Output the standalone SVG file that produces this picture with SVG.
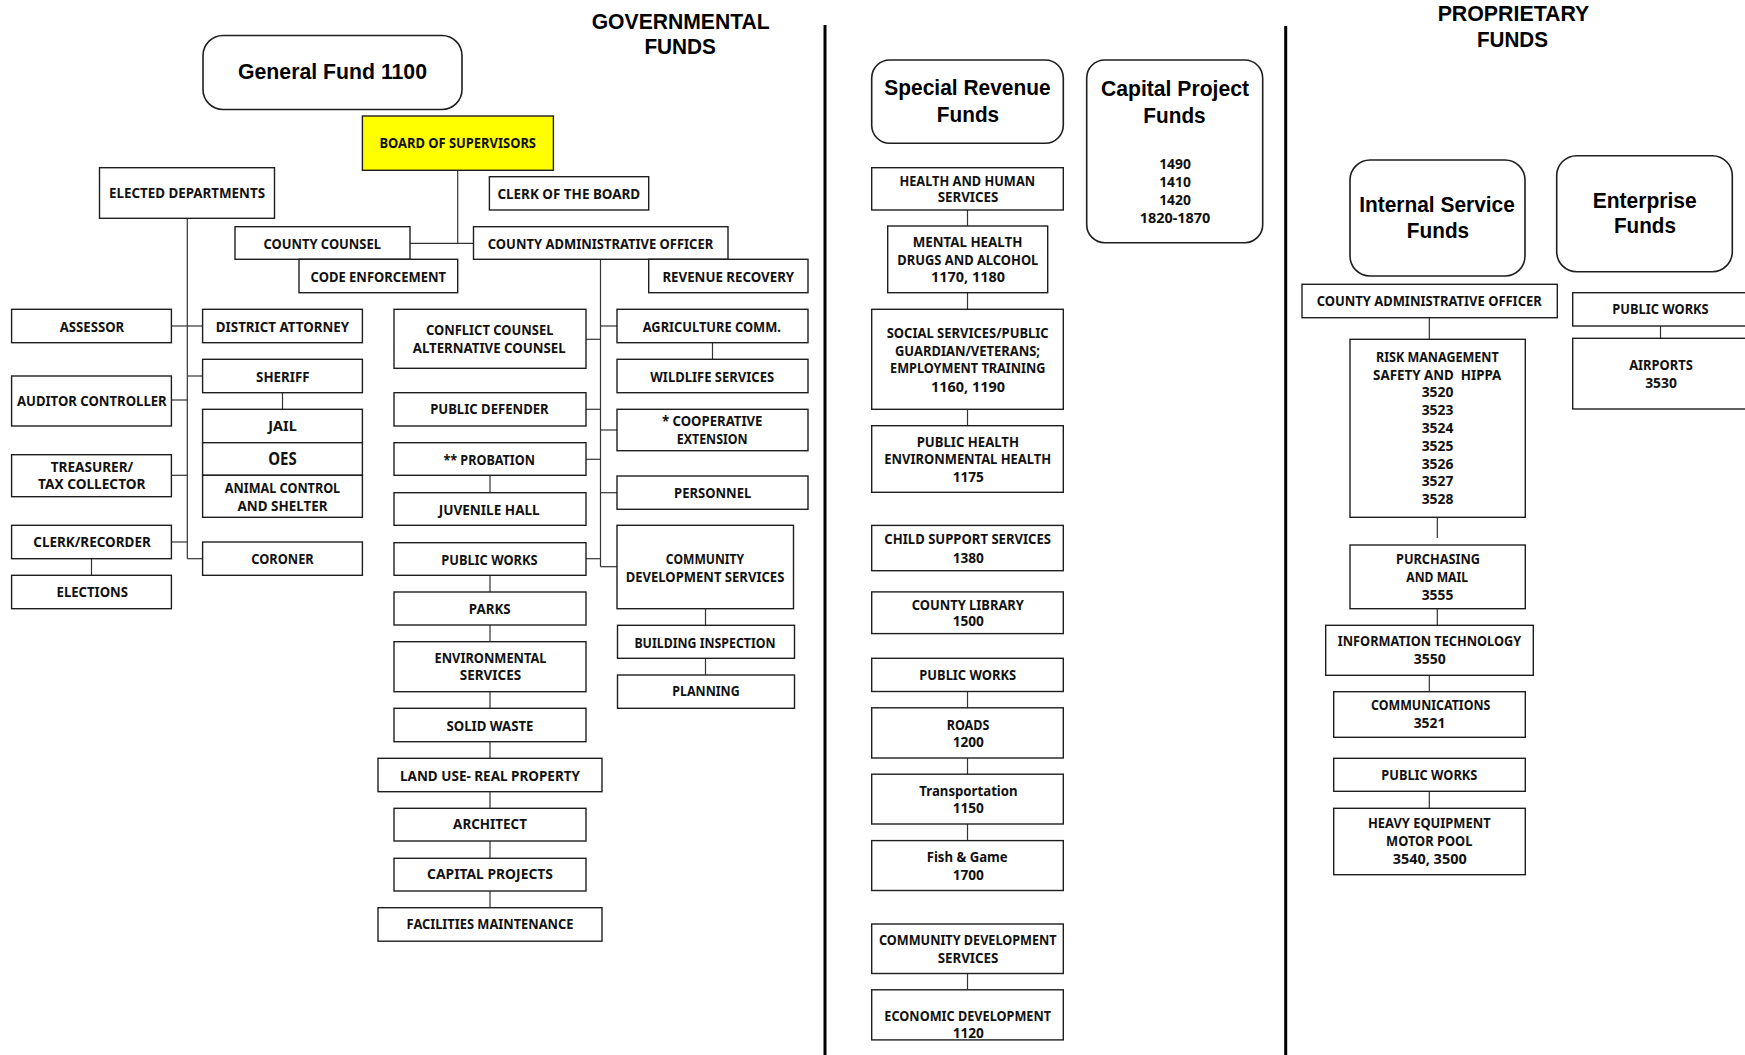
<svg xmlns="http://www.w3.org/2000/svg" width="1745" height="1055" viewBox="0 0 1745 1055">
<style>
.bx{fill:#fff;stroke:#1e1e1e;stroke-width:1.4}
.yb{fill:#ffff00;stroke:#1e1e1e;stroke-width:1.4}
.rb{fill:#fff;stroke:#1e1e1e;stroke-width:1.6}
.t{font-family:"Noto Sans","Liberation Sans",Arial,sans-serif;font-weight:700;font-size:15px;text-anchor:middle;fill:#111}
.oes{font-size:17px}
.h{font-family:"Liberation Sans",Arial,sans-serif;font-weight:700;font-size:22px;text-anchor:middle;fill:#000}
.hf{font-family:"Liberation Sans",Arial,sans-serif;font-weight:700;font-size:21.5px;text-anchor:middle;fill:#000}
.cn line{stroke:#333;stroke-width:1.2}
.dv{stroke:#000;stroke-width:3}
</style>

<g id="dividers">
<line class="dv" x1="825" y1="25" x2="825" y2="1055"/>
<line class="dv" x1="1285.7" y1="26" x2="1285.7" y2="1055"/>
</g>

<g id="titles">
<text class="h" x="680.7" y="29.3" textLength="178" lengthAdjust="spacingAndGlyphs">GOVERNMENTAL</text>
<text class="h" x="680.2" y="54" textLength="71.5" lengthAdjust="spacingAndGlyphs">FUNDS</text>
<text class="h" x="1513.5" y="20.7" textLength="151.7" lengthAdjust="spacingAndGlyphs">PROPRIETARY</text>
<text class="h" x="1512.5" y="46.7" textLength="71" lengthAdjust="spacingAndGlyphs">FUNDS</text>
</g>

<g id="connectors" class="cn">
<line x1="457.7" y1="170.3" x2="457.7" y2="243.3"/>
<line x1="410" y1="243.3" x2="473.5" y2="243.3"/>
<line x1="187.3" y1="218.3" x2="187.3" y2="558.7"/>
<line x1="171.4" y1="326" x2="202.6" y2="326"/>
<line x1="187.3" y1="376" x2="202.6" y2="376"/>
<line x1="171.4" y1="400" x2="187.3" y2="400"/>
<line x1="171.4" y1="475.3" x2="187.3" y2="475.3"/>
<line x1="171.4" y1="542" x2="187.3" y2="542"/>
<line x1="187.3" y1="558.7" x2="202.6" y2="558.7"/>
<line x1="282.5" y1="392.7" x2="282.5" y2="409.3"/>
<line x1="91.5" y1="558.7" x2="91.5" y2="575.3"/>
<line x1="600.5" y1="259.3" x2="600.5" y2="566.7"/>
<line x1="586" y1="339.3" x2="600.5" y2="339.3"/>
<line x1="600.5" y1="326" x2="617" y2="326"/>
<line x1="586" y1="409.3" x2="600.5" y2="409.3"/>
<line x1="600.5" y1="430" x2="617" y2="430"/>
<line x1="586" y1="459.3" x2="600.5" y2="459.3"/>
<line x1="600.5" y1="492.7" x2="617" y2="492.7"/>
<line x1="586" y1="558.7" x2="600.5" y2="558.7"/>
<line x1="600.5" y1="566.7" x2="617" y2="566.7"/>
<line x1="712.5" y1="342.7" x2="712.5" y2="359.3"/>
<line x1="490" y1="475.3" x2="490" y2="492.7"/>
<line x1="490" y1="575.3" x2="490" y2="592"/>
<line x1="490" y1="625" x2="490" y2="641.7"/>
<line x1="490" y1="691.7" x2="490" y2="708.3"/>
<line x1="490" y1="741.7" x2="490" y2="758.3"/>
<line x1="490" y1="791.7" x2="490" y2="808.3"/>
<line x1="490" y1="841" x2="490" y2="858.3"/>
<line x1="490" y1="891" x2="490" y2="907.7"/>
<line x1="705.5" y1="608.7" x2="705.5" y2="625.3"/>
<line x1="705.5" y1="658.3" x2="705.5" y2="675"/>
<line x1="967.5" y1="210" x2="967.5" y2="226"/>
<line x1="967.5" y1="292.7" x2="967.5" y2="309.3"/>
<line x1="967.5" y1="409.3" x2="967.5" y2="425.7"/>
<line x1="967.5" y1="691.5" x2="967.5" y2="707.8"/>
<line x1="967.5" y1="758" x2="967.5" y2="774.2"/>
<line x1="967.5" y1="824" x2="967.5" y2="840.6"/>
<line x1="967.5" y1="973.5" x2="967.5" y2="989.8"/>
<line x1="1429.3" y1="317.7" x2="1429.3" y2="339.3"/>
<line x1="1437.3" y1="517.3" x2="1437.3" y2="538"/>
<line x1="1437.3" y1="608.7" x2="1437.3" y2="625.3"/>
<line x1="1429.3" y1="675.3" x2="1429.3" y2="691.7"/>
<line x1="1429.3" y1="791.3" x2="1429.3" y2="808.3"/>
<line x1="1660.5" y1="326" x2="1660.5" y2="338.3"/>
</g>

<g id="general-fund"><rect class="rb" x="203" y="35.5" width="259" height="74" rx="20"/>
<text class="h" x="332.5" y="79" textLength="189" lengthAdjust="spacingAndGlyphs">General Fund 1100</text></g>

<g id="board-of-supervisors"><rect class="yb" x="362.4" y="116" width="191" height="54.3"/>
<text class="t" x="457.7" y="148.3" textLength="156.6" lengthAdjust="spacingAndGlyphs">BOARD OF SUPERVISORS</text></g>

<g id="elected-departments"><rect class="bx" x="99.5" y="167.7" width="175" height="50.6"/>
<text class="t" x="187" y="198" textLength="156" lengthAdjust="spacingAndGlyphs">ELECTED DEPARTMENTS</text></g>

<g id="clerk-of-the-board"><rect class="bx" x="489.4" y="176.7" width="159.3" height="33.3"/>
<text class="t" x="568.8" y="199" textLength="142.8" lengthAdjust="spacingAndGlyphs">CLERK OF THE BOARD</text></g>

<g id="county-counsel"><rect class="bx" x="235" y="226.7" width="175" height="32.6"/>
<text class="t" x="322.2" y="248.5" textLength="117.5" lengthAdjust="spacingAndGlyphs">COUNTY COUNSEL</text></g>

<g id="code-enforcement"><rect class="bx" x="299" y="259.3" width="158.7" height="33.4"/>
<text class="t" x="378.3" y="281.7" textLength="135.4" lengthAdjust="spacingAndGlyphs">CODE ENFORCEMENT</text></g>

<g id="cao"><rect class="bx" x="473.5" y="226.7" width="254.5" height="32.6"/>
<text class="t" x="600.5" y="248.5" textLength="225.4" lengthAdjust="spacingAndGlyphs">COUNTY ADMINISTRATIVE OFFICER</text></g>

<g id="revenue-recovery"><rect class="bx" x="648.7" y="259.3" width="159.3" height="33.4"/>
<text class="t" x="728.3" y="282" textLength="131.8" lengthAdjust="spacingAndGlyphs">REVENUE RECOVERY</text></g>

<g id="assessor"><rect class="bx" x="11.6" y="309.3" width="159.8" height="33.4"/>
<text class="t" x="92" y="331.7" textLength="64.5" lengthAdjust="spacingAndGlyphs">ASSESSOR</text></g>

<g id="auditor-controller"><rect class="bx" x="11.6" y="376" width="159.8" height="50"/>
<text class="t" x="91.8" y="405.7" textLength="149.8" lengthAdjust="spacingAndGlyphs">AUDITOR CONTROLLER</text></g>

<g id="treasurer"><rect class="bx" x="11.6" y="454.7" width="159.8" height="42"/>
<text class="t" x="92" y="472.3" textLength="82.5" lengthAdjust="spacingAndGlyphs">TREASURER/</text>
<text class="t" x="91.8" y="489.3" textLength="107.4" lengthAdjust="spacingAndGlyphs">TAX COLLECTOR</text></g>

<g id="clerk-recorder"><rect class="bx" x="11.6" y="525.3" width="159.8" height="33.4"/>
<text class="t" x="92" y="547" textLength="117.5" lengthAdjust="spacingAndGlyphs">CLERK/RECORDER</text></g>

<g id="elections"><rect class="bx" x="11.6" y="575.3" width="159.8" height="33.4"/>
<text class="t" x="92.3" y="597.3" textLength="71.4" lengthAdjust="spacingAndGlyphs">ELECTIONS</text></g>

<g id="district-attorney"><rect class="bx" x="202.6" y="309.3" width="159.8" height="33.4"/>
<text class="t" x="282.5" y="331.7" textLength="133.3" lengthAdjust="spacingAndGlyphs">DISTRICT ATTORNEY</text></g>

<g id="sheriff"><rect class="bx" x="202.6" y="359.3" width="159.8" height="33.4"/>
<text class="t" x="282.8" y="381.7" textLength="53.4" lengthAdjust="spacingAndGlyphs">SHERIFF</text></g>

<g id="jail"><rect class="bx" x="202.6" y="409.3" width="159.8" height="33.4"/>
<text class="t" x="282.5" y="431.3" textLength="28.5" lengthAdjust="spacingAndGlyphs">JAIL</text></g>

<g id="oes"><rect class="bx" x="202.6" y="442.7" width="159.8" height="32.6"/>
<text class="t oes" x="282.5" y="464.7" textLength="28.5" lengthAdjust="spacingAndGlyphs">OES</text></g>

<g id="animal-control"><rect class="bx" x="202.6" y="475.3" width="159.8" height="42"/>
<text class="t" x="282.5" y="492.7" textLength="115.3" lengthAdjust="spacingAndGlyphs">ANIMAL CONTROL</text>
<text class="t" x="282.5" y="510.7" textLength="90" lengthAdjust="spacingAndGlyphs">AND SHELTER</text></g>

<g id="coroner"><rect class="bx" x="202.6" y="542" width="159.8" height="33.3"/>
<text class="t" x="282.5" y="564" textLength="62.4" lengthAdjust="spacingAndGlyphs">CORONER</text></g>

<g id="conflict-counsel"><rect class="bx" x="394" y="309.3" width="192" height="59"/>
<text class="t" x="489.7" y="334.7" textLength="127.5" lengthAdjust="spacingAndGlyphs">CONFLICT COUNSEL</text>
<text class="t" x="489.2" y="352.7" textLength="152.9" lengthAdjust="spacingAndGlyphs">ALTERNATIVE COUNSEL</text></g>

<g id="public-defender"><rect class="bx" x="394" y="392.7" width="192" height="33.3"/>
<text class="t" x="489.4" y="414.3" textLength="118.5" lengthAdjust="spacingAndGlyphs">PUBLIC DEFENDER</text></g>

<g id="probation"><rect class="bx" x="394" y="442.7" width="192" height="32.6"/>
<text class="t" x="489.2" y="464.7" textLength="91.5" lengthAdjust="spacingAndGlyphs">** PROBATION</text></g>

<g id="juvenile-hall"><rect class="bx" x="394" y="492.7" width="192" height="32.6"/>
<text class="t" x="489.2" y="514.7" textLength="101" lengthAdjust="spacingAndGlyphs">JUVENILE HALL</text></g>

<g id="public-works-gf"><rect class="bx" x="394" y="542.7" width="192" height="32.6"/>
<text class="t" x="489.4" y="564.7" textLength="96.3" lengthAdjust="spacingAndGlyphs">PUBLIC WORKS</text></g>

<g id="parks"><rect class="bx" x="394" y="592" width="192" height="33"/>
<text class="t" x="489.7" y="613.7" textLength="41.8" lengthAdjust="spacingAndGlyphs">PARKS</text></g>

<g id="environmental-services"><rect class="bx" x="394" y="641.7" width="192" height="50"/>
<text class="t" x="490.5" y="663.3" textLength="112" lengthAdjust="spacingAndGlyphs">ENVIRONMENTAL</text>
<text class="t" x="490.5" y="680" textLength="61.4" lengthAdjust="spacingAndGlyphs">SERVICES</text></g>

<g id="solid-waste"><rect class="bx" x="394" y="708.3" width="192" height="33.4"/>
<text class="t" x="490" y="730.7" textLength="87" lengthAdjust="spacingAndGlyphs">SOLID WASTE</text></g>

<g id="land-use"><rect class="bx" x="378" y="758.3" width="224" height="33.4"/>
<text class="t" x="490" y="780.7" textLength="180" lengthAdjust="spacingAndGlyphs">LAND USE- REAL PROPERTY</text></g>

<g id="architect"><rect class="bx" x="394" y="808.3" width="192" height="32.7"/>
<text class="t" x="490" y="829.3" textLength="73.8" lengthAdjust="spacingAndGlyphs">ARCHITECT</text></g>

<g id="capital-projects"><rect class="bx" x="394" y="858.3" width="192" height="32.7"/>
<text class="t" x="490" y="879.3" textLength="125.8" lengthAdjust="spacingAndGlyphs">CAPITAL PROJECTS</text></g>

<g id="facilities-maintenance"><rect class="bx" x="378" y="907.7" width="224" height="33.5"/>
<text class="t" x="490" y="929.3" textLength="166.8" lengthAdjust="spacingAndGlyphs">FACILITIES MAINTENANCE</text></g>

<g id="agriculture-comm"><rect class="bx" x="617" y="309.3" width="191" height="33.4"/>
<text class="t" x="711.8" y="331.7" textLength="138.1" lengthAdjust="spacingAndGlyphs">AGRICULTURE COMM.</text></g>

<g id="wildlife-services"><rect class="bx" x="617" y="359.3" width="191" height="33.4"/>
<text class="t" x="712.2" y="381.7" textLength="123.8" lengthAdjust="spacingAndGlyphs">WILDLIFE SERVICES</text></g>

<g id="cooperative-extension"><rect class="bx" x="617" y="409.3" width="191" height="41.4"/>
<text class="t" x="712.2" y="426.3" textLength="100.5" lengthAdjust="spacingAndGlyphs">* COOPERATIVE</text>
<text class="t" x="712.2" y="444.3" textLength="70.9" lengthAdjust="spacingAndGlyphs">EXTENSION</text></g>

<g id="personnel"><rect class="bx" x="617" y="476" width="191" height="33.3"/>
<text class="t" x="712.7" y="497.7" textLength="77.2" lengthAdjust="spacingAndGlyphs">PERSONNEL</text></g>

<g id="community-development-services"><rect class="bx" x="617" y="525.3" width="176.5" height="83.4"/>
<text class="t" x="705" y="564" textLength="78.3" lengthAdjust="spacingAndGlyphs">COMMUNITY</text>
<text class="t" x="705" y="582" textLength="158.7" lengthAdjust="spacingAndGlyphs">DEVELOPMENT SERVICES</text></g>

<g id="building-inspection"><rect class="bx" x="617.5" y="625.3" width="177" height="33"/>
<text class="t" x="705" y="648.3" textLength="141.2" lengthAdjust="spacingAndGlyphs">BUILDING INSPECTION</text></g>

<g id="planning"><rect class="bx" x="617.5" y="675" width="177" height="33.3"/>
<text class="t" x="706" y="696" textLength="67.4" lengthAdjust="spacingAndGlyphs">PLANNING</text></g>

<g id="special-revenue-funds"><rect class="rb" x="871.7" y="60" width="191.6" height="83.3" rx="18"/>
<text class="hf" x="967.5" y="95" textLength="166.3" lengthAdjust="spacingAndGlyphs">Special Revenue</text>
<text class="hf" x="968" y="121.7" textLength="62.3" lengthAdjust="spacingAndGlyphs">Funds</text></g>

<g id="capital-project-funds"><rect class="rb" x="1086.7" y="60" width="176" height="182.7" rx="18"/>
<text class="hf" x="1175" y="96" textLength="148" lengthAdjust="spacingAndGlyphs">Capital Project</text>
<text class="hf" x="1174.5" y="122.7" textLength="62.3" lengthAdjust="spacingAndGlyphs">Funds</text>
<text class="t" x="1175" y="169" textLength="31.7" lengthAdjust="spacingAndGlyphs">1490</text>
<text class="t" x="1175" y="187.3" textLength="31.7" lengthAdjust="spacingAndGlyphs">1410</text>
<text class="t" x="1175" y="205.3" textLength="31.7" lengthAdjust="spacingAndGlyphs">1420</text>
<text class="t" x="1175" y="223.3" textLength="70.7" lengthAdjust="spacingAndGlyphs">1820-1870</text></g>

<g id="health-human-services"><rect class="bx" x="871.7" y="167.7" width="191.6" height="42.3"/>
<text class="t" x="967.3" y="185.7" textLength="135.7" lengthAdjust="spacingAndGlyphs">HEALTH AND HUMAN</text>
<text class="t" x="968" y="202.3" textLength="60.7" lengthAdjust="spacingAndGlyphs">SERVICES</text></g>

<g id="mental-health"><rect class="bx" x="887.7" y="226" width="160" height="66.7"/>
<text class="t" x="967.5" y="247.3" textLength="109.7" lengthAdjust="spacingAndGlyphs">MENTAL HEALTH</text>
<text class="t" x="967.8" y="265" textLength="141" lengthAdjust="spacingAndGlyphs">DRUGS AND ALCOHOL</text>
<text class="t" x="968" y="282.3" textLength="74" lengthAdjust="spacingAndGlyphs">1170, 1180</text></g>

<g id="social-services"><rect class="bx" x="871.7" y="309.3" width="191.6" height="100"/>
<text class="t" x="967.7" y="337.7" textLength="162" lengthAdjust="spacingAndGlyphs">SOCIAL SERVICES/PUBLIC</text>
<text class="t" x="967.5" y="356" textLength="145" lengthAdjust="spacingAndGlyphs">GUARDIAN/VETERANS;</text>
<text class="t" x="967.7" y="373.3" textLength="155.3" lengthAdjust="spacingAndGlyphs">EMPLOYMENT TRAINING</text>
<text class="t" x="968" y="391.7" textLength="74" lengthAdjust="spacingAndGlyphs">1160, 1190</text></g>

<g id="public-health"><rect class="bx" x="871.7" y="425.7" width="191.6" height="66.6"/>
<text class="t" x="967.8" y="446.7" textLength="102.3" lengthAdjust="spacingAndGlyphs">PUBLIC HEALTH</text>
<text class="t" x="967.7" y="464.3" textLength="166.7" lengthAdjust="spacingAndGlyphs">ENVIRONMENTAL HEALTH</text>
<text class="t" x="968.3" y="481.7" textLength="31.3" lengthAdjust="spacingAndGlyphs">1175</text></g>

<g id="child-support"><rect class="bx" x="871.7" y="525.4" width="191.6" height="45.3"/>
<text class="t" x="967.7" y="544.2" textLength="166.7" lengthAdjust="spacingAndGlyphs">CHILD SUPPORT SERVICES</text>
<text class="t" x="968.3" y="562.5" textLength="31.3" lengthAdjust="spacingAndGlyphs">1380</text></g>

<g id="county-library"><rect class="bx" x="871.7" y="591.9" width="191.6" height="41.7"/>
<text class="t" x="967.8" y="609.5" textLength="112.3" lengthAdjust="spacingAndGlyphs">COUNTY LIBRARY</text>
<text class="t" x="968.3" y="626.1" textLength="31.3" lengthAdjust="spacingAndGlyphs">1500</text></g>

<g id="public-works-srf"><rect class="bx" x="871.7" y="658.3" width="191.6" height="33.2"/>
<text class="t" x="967.7" y="679.9" textLength="96.7" lengthAdjust="spacingAndGlyphs">PUBLIC WORKS</text></g>

<g id="roads"><rect class="bx" x="871.7" y="707.8" width="191.6" height="50.2"/>
<text class="t" x="968" y="729.7" textLength="42.7" lengthAdjust="spacingAndGlyphs">ROADS</text>
<text class="t" x="968.3" y="747.3" textLength="31.3" lengthAdjust="spacingAndGlyphs">1200</text></g>

<g id="transportation"><rect class="bx" x="871.7" y="774.2" width="191.6" height="49.8"/>
<text class="t" x="968.5" y="796.1" textLength="98.3" lengthAdjust="spacingAndGlyphs">Transportation</text>
<text class="t" x="968.3" y="812.7" textLength="31.3" lengthAdjust="spacingAndGlyphs">1150</text></g>

<g id="fish-game"><rect class="bx" x="871.7" y="840.6" width="191.6" height="49.9"/>
<text class="t" x="967.2" y="861.8" textLength="81" lengthAdjust="spacingAndGlyphs">Fish &amp; Game</text>
<text class="t" x="968.3" y="879.9" textLength="31.3" lengthAdjust="spacingAndGlyphs">1700</text></g>

<g id="community-development-srf"><rect class="bx" x="871.7" y="924" width="191.6" height="49.5"/>
<text class="t" x="967.8" y="945.2" textLength="177.7" lengthAdjust="spacingAndGlyphs">COMMUNITY DEVELOPMENT</text>
<text class="t" x="968" y="962.9" textLength="60.7" lengthAdjust="spacingAndGlyphs">SERVICES</text></g>

<g id="economic-development"><rect class="bx" x="871.7" y="989.8" width="191.6" height="50.1"/>
<text class="t" x="967.7" y="1020.5" textLength="166.7" lengthAdjust="spacingAndGlyphs">ECONOMIC DEVELOPMENT</text>
<text class="t" x="968.3" y="1037.8" textLength="31.3" lengthAdjust="spacingAndGlyphs">1120</text></g>

<g id="internal-service-funds"><rect class="rb" x="1350" y="160" width="175" height="116" rx="20"/>
<text class="hf" x="1437" y="212.3" textLength="155.7" lengthAdjust="spacingAndGlyphs">Internal Service</text>
<text class="hf" x="1438" y="237.7" textLength="62.3" lengthAdjust="spacingAndGlyphs">Funds</text></g>

<g id="enterprise-funds"><rect class="rb" x="1556.7" y="155.7" width="175.6" height="116" rx="20"/>
<text class="hf" x="1644.7" y="208.3" textLength="104" lengthAdjust="spacingAndGlyphs">Enterprise</text>
<text class="hf" x="1645" y="233.3" textLength="62" lengthAdjust="spacingAndGlyphs">Funds</text></g>

<g id="cao-isf"><rect class="bx" x="1302" y="284.3" width="255.3" height="33.4"/>
<text class="t" x="1429.2" y="306" textLength="225" lengthAdjust="spacingAndGlyphs">COUNTY ADMINISTRATIVE OFFICER</text></g>

<g id="risk-management"><rect class="bx" x="1350" y="339.3" width="175.3" height="178"/>
<text class="t" x="1437.3" y="362" textLength="122.7" lengthAdjust="spacingAndGlyphs">RISK MANAGEMENT</text>
<text class="t" x="1437.2" y="380" textLength="128.3" lengthAdjust="spacingAndGlyphs" xml:space="preserve">SAFETY AND  HIPPA</text>
<text class="t" x="1437.5" y="397.3" textLength="31.7" lengthAdjust="spacingAndGlyphs">3520</text>
<text class="t" x="1437.5" y="415" textLength="31.7" lengthAdjust="spacingAndGlyphs">3523</text>
<text class="t" x="1437.5" y="432.7" textLength="31.7" lengthAdjust="spacingAndGlyphs">3524</text>
<text class="t" x="1437.5" y="450.7" textLength="31.7" lengthAdjust="spacingAndGlyphs">3525</text>
<text class="t" x="1437.5" y="468.7" textLength="31.7" lengthAdjust="spacingAndGlyphs">3526</text>
<text class="t" x="1437.5" y="486.3" textLength="31.7" lengthAdjust="spacingAndGlyphs">3527</text>
<text class="t" x="1437.5" y="504.3" textLength="31.7" lengthAdjust="spacingAndGlyphs">3528</text></g>

<g id="purchasing"><rect class="bx" x="1350" y="545" width="175.3" height="63.7"/>
<text class="t" x="1438" y="564.3" textLength="84" lengthAdjust="spacingAndGlyphs">PURCHASING</text>
<text class="t" x="1437.2" y="582.3" textLength="61.7" lengthAdjust="spacingAndGlyphs">AND MAIL</text>
<text class="t" x="1437.5" y="599.7" textLength="31.7" lengthAdjust="spacingAndGlyphs">3555</text></g>

<g id="information-technology"><rect class="bx" x="1325.7" y="625.3" width="207.6" height="50"/>
<text class="t" x="1429.5" y="646.3" textLength="183.3" lengthAdjust="spacingAndGlyphs">INFORMATION TECHNOLOGY</text>
<text class="t" x="1429.7" y="664" textLength="32" lengthAdjust="spacingAndGlyphs">3550</text></g>

<g id="communications"><rect class="bx" x="1333.7" y="691.7" width="191.6" height="45.6"/>
<text class="t" x="1430.7" y="710.3" textLength="119.3" lengthAdjust="spacingAndGlyphs">COMMUNICATIONS</text>
<text class="t" x="1429.5" y="728" textLength="31.7" lengthAdjust="spacingAndGlyphs">3521</text></g>

<g id="public-works-isf"><rect class="bx" x="1333.7" y="758.3" width="191.6" height="33"/>
<text class="t" x="1429.3" y="780.3" textLength="96" lengthAdjust="spacingAndGlyphs">PUBLIC WORKS</text></g>

<g id="heavy-equipment"><rect class="bx" x="1333.7" y="808.3" width="191.6" height="66.4"/>
<text class="t" x="1429.3" y="828.3" textLength="122.7" lengthAdjust="spacingAndGlyphs">HEAVY EQUIPMENT</text>
<text class="t" x="1429.2" y="846.3" textLength="86.3" lengthAdjust="spacingAndGlyphs">MOTOR POOL</text>
<text class="t" x="1429.7" y="863.7" textLength="74" lengthAdjust="spacingAndGlyphs">3540, 3500</text></g>

<g id="public-works-ef"><rect class="bx" x="1572.7" y="292.7" width="177" height="33.3"/>
<text class="t" x="1660.5" y="314.3" textLength="96.3" lengthAdjust="spacingAndGlyphs">PUBLIC WORKS</text></g>

<g id="airports"><rect class="bx" x="1572.7" y="338.3" width="177" height="70.7"/>
<text class="t" x="1661" y="370.3" textLength="63.7" lengthAdjust="spacingAndGlyphs">AIRPORTS</text>
<text class="t" x="1661" y="387.7" textLength="31.7" lengthAdjust="spacingAndGlyphs">3530</text></g>
</svg>
